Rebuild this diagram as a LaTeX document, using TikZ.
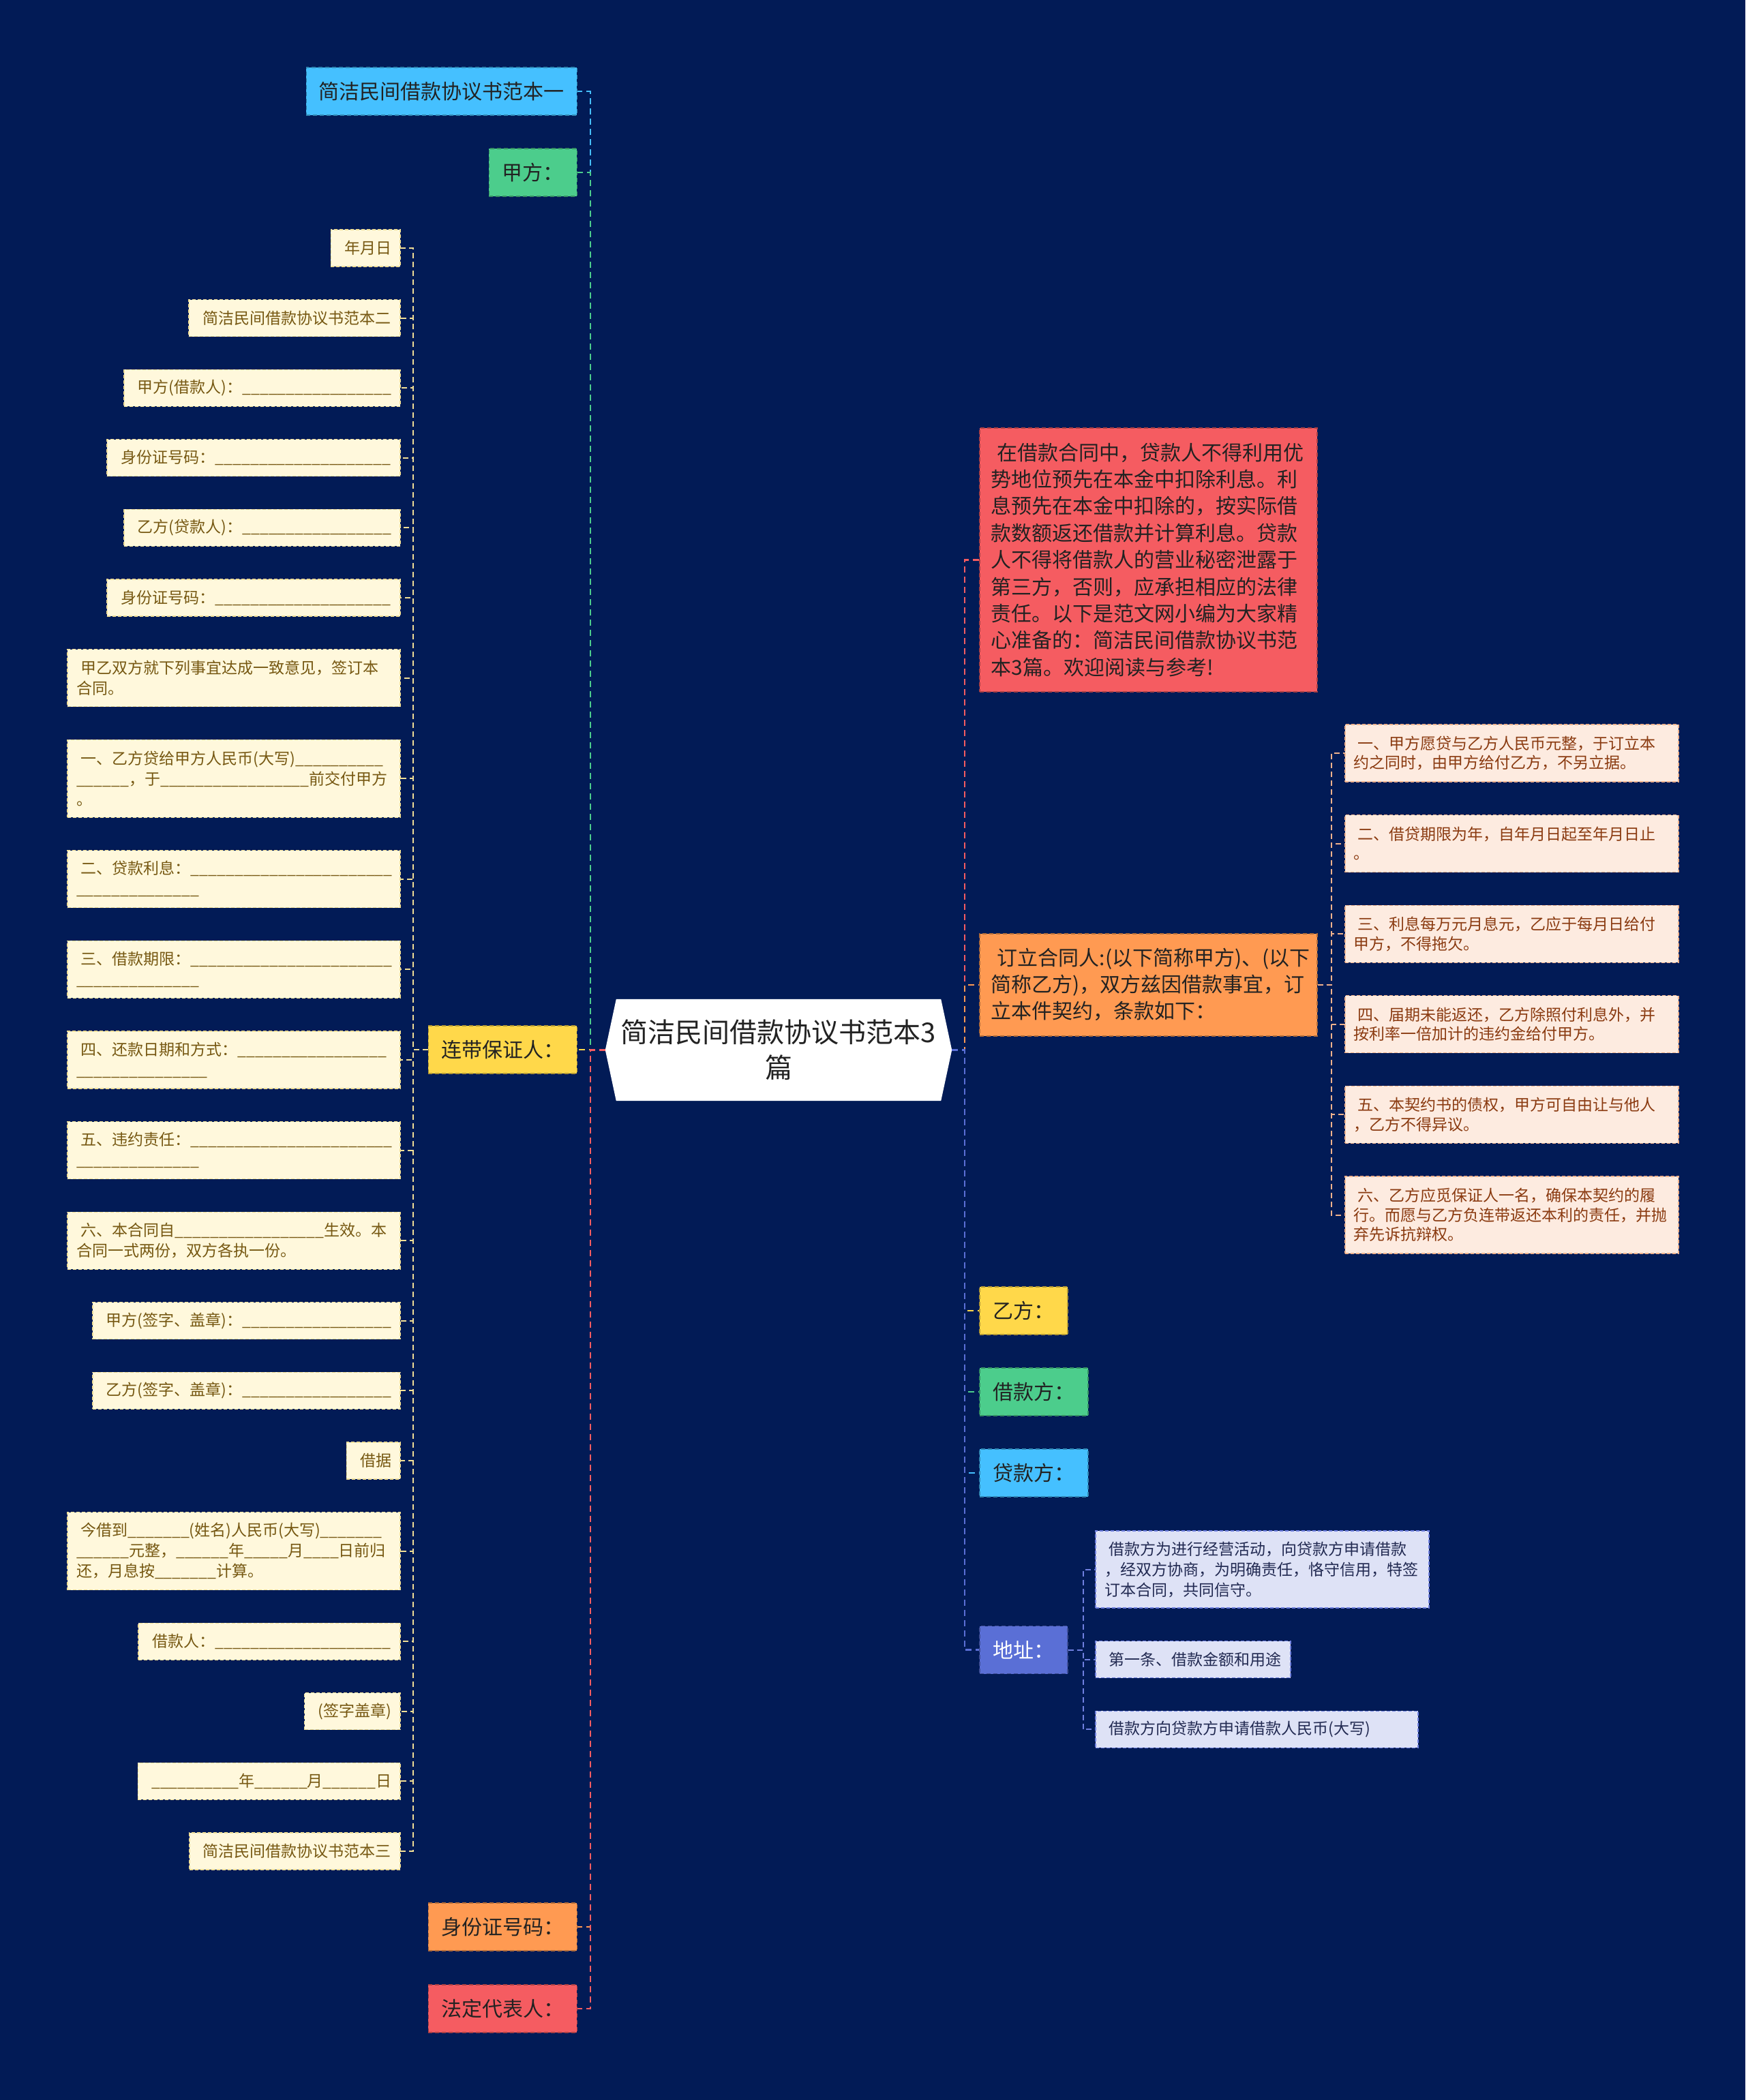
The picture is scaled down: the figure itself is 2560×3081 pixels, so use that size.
\documentclass[tikz,border=0pt]{standalone}
\usepackage{fontspec}
\setmainfont{Noto Sans CJK SC}
\usetikzlibrary{positioning, backgrounds}

\definecolor{bgnavy}{RGB}{2,27,86}
\definecolor{cblue}{RGB}{69,192,255}
\definecolor{cgreen}{RGB}{76,205,140}
\definecolor{cyellow}{RGB}{255,216,74}
\definecolor{corange}{RGB}{255,154,82}
\definecolor{cred}{RGB}{245,92,97}
\definecolor{cpurple}{RGB}{90,111,214}
\definecolor{leafbg}{RGB}{255,248,220}
\definecolor{leaftxt}{RGB}{118,88,18}
\definecolor{leafln}{RGB}{240,222,150}
\definecolor{peachbg}{RGB}{253,235,224}
\definecolor{peachtxt}{RGB}{138,58,16}
\definecolor{peachln}{RGB}{240,178,140}
\definecolor{lilacbg}{RGB}{222,226,246}
\definecolor{lilactxt}{RGB}{34,42,82}
\definecolor{lilacln}{RGB}{112,128,224}
\definecolor{inktxt}{RGB}{34,34,34}

\newcommand{\blank}[1]{\foreach \k in {1,...,#1}{\_}}
\newcommand{\indt}{\hspace*{0.3em}}

\tikzstyle{link} = [line width=2.5pt, dash pattern=on 9pt off 6pt]
\tikzstyle{sublink} = [line width=2pt, dash pattern=on 8pt off 5pt]
\tikzstyle{root} = [text=inktxt, font=\fontsize{40}{52}\selectfont, align=center, minimum width=508pt, minimum height=149pt, inner sep=0pt]
\tikzstyle{topic} = [line width=1.5pt, dash pattern=on 6pt off 4pt, text=inktxt, font=\fontsize{30}{39}\selectfont, inner xsep=16pt, inner ysep=0pt, minimum height=70pt]
\tikzstyle{note} = [topic, align=left, text width=461pt, inner xsep=17pt]
\tikzstyle{leaf} = [fill=leafbg, draw=leafln, line width=1.2pt, dash pattern=on 5pt off 3pt, text=leaftxt, font=\fontsize{23}{30}\selectfont, inner xsep=13pt, inner ysep=0pt, outer sep=0pt, minimum height=54pt, anchor=north east]
\tikzstyle{leafwide} = [leaf, text width=462pt, align=left, minimum height=84pt]
\tikzstyle{clause} = [fill=peachbg, draw=peachln, line width=1.2pt, dash pattern=on 5pt off 3pt, text=peachtxt, font=\fontsize{23}{28.5}\selectfont, inner xsep=12pt, inner ysep=0pt, outer sep=0pt, text width=465pt, align=left, minimum height=84pt, anchor=north west]
\tikzstyle{term} = [fill=lilacbg, draw=lilacln, line width=1.2pt, dash pattern=on 5pt off 3pt, text=lilactxt, font=\fontsize{23}{30}\selectfont, inner xsep=13pt, inner ysep=0pt, outer sep=0pt, minimum height=54pt, anchor=north west]
\tikzset{tcol/.style={fill=#1, draw=#1!70!black}}

\begin{document}
\begin{tikzpicture}[x=1pt, y=-1pt, node distance=48.6pt]
    \node[root] (ctr) at (1142,1540.5) {简洁民间借款协议书范本3\\篇};

    % left side
    \node[topic, tcol=cblue, anchor=east, minimum width=397pt] (sampleone) at (847,134) {简洁民间借款协议书范本一};
    \node[topic, tcol=cgreen, anchor=east, minimum width=129pt] (partya) at (847,253) {甲方：};
    \node[topic, tcol=cyellow, anchor=east, minimum width=218pt] (guarantor) at (847,1540) {连带保证人：};
    \node[topic, tcol=corange, anchor=east, minimum width=218pt] (idno) at (847,2827) {身份证号码：};
    \node[topic, tcol=cred, anchor=east, minimum width=218pt] (legalrep) at (847,2947) {法定代表人：};

    \node[leaf, minimum width=101pt] (g1) at (587,337) {\indt 年月日};
    \node[leaf, below=of g1.south east, anchor=north east, minimum width=310pt] (g2) {\indt 简洁民间借款协议书范本二};
    \node[leaf, below=of g2.south east, anchor=north east, minimum width=404pt] (g3) {\indt 甲方(借款人)：\blank{17}};
    \node[leaf, below=of g3.south east, anchor=north east, minimum width=430pt] (g4) {\indt 身份证号码：\blank{20}};
    \node[leaf, below=of g4.south east, anchor=north east, minimum width=404pt] (g5) {\indt 乙方(贷款人)：\blank{17}};
    \node[leaf, below=of g5.south east, anchor=north east, minimum width=430pt] (g6) {\indt 身份证号码：\blank{20}};
    \node[leafwide, below=of g6.south east, anchor=north east] (g7) {\indt 甲乙双方就下列事宜达成一致意见，签订本\\合同。};
    \node[leafwide, below=of g7.south east, anchor=north east, minimum height=114pt] (g8) {\indt 一、乙方贷给甲方人民币(大写)\blank{10}\\\blank{6}，于\blank{17}前交付甲方\\。};
    \node[leafwide, below=of g8.south east, anchor=north east] (g9) {\indt 二、贷款利息：\blank{23}\\\blank{14}};
    \node[leafwide, below=of g9.south east, anchor=north east] (g10) {\indt 三、借款期限：\blank{23}\\\blank{14}};
    \node[leafwide, below=of g10.south east, anchor=north east] (g11) {\indt 四、还款日期和方式：\blank{17}\\\blank{15}};
    \node[leafwide, below=of g11.south east, anchor=north east] (g12) {\indt 五、违约责任：\blank{23}\\\blank{14}};
    \node[leafwide, below=of g12.south east, anchor=north east] (g13) {\indt 六、本合同自\blank{17}生效。本\\合同一式两份，双方各执一份。};
    \node[leaf, below=of g13.south east, anchor=north east, minimum width=451pt] (g14) {\indt 甲方(签字、盖章)：\blank{17}};
    \node[leaf, below=of g14.south east, anchor=north east, minimum width=451pt] (g15) {\indt 乙方(签字、盖章)：\blank{17}};
    \node[leaf, below=of g15.south east, anchor=north east, minimum width=78pt] (g16) {\indt 借据};
    \node[leafwide, below=of g16.south east, anchor=north east, minimum height=114pt] (g17) {\indt 今借到\blank{7}(姓名)人民币(大写)\blank{7}\\\blank{6}元整，\blank{6}年\blank{5}月\blank{4}日前归\\还，月息按\blank{7}计算。};
    \node[leaf, below=of g17.south east, anchor=north east, minimum width=384pt] (g18) {\indt 借款人：\blank{20}};
    \node[leaf, below=of g18.south east, anchor=north east, minimum width=139pt] (g19) {\indt (签字盖章)};
    \node[leaf, below=of g19.south east, anchor=north east, minimum width=381pt] (g20) {\indt \blank{10}年\blank{6}月\blank{6}日};
    \node[leaf, below=of g20.south east, anchor=north east, minimum width=309pt] (g21) {\indt 简洁民间借款协议书范本三};

    % right side
    \node[note, tcol=cred, anchor=north west, minimum height=387pt, font=\fontsize{30}{39.4}\selectfont] (intro) at (1436,627) {\indt 在借款合同中，贷款人不得利用优\\势地位预先在本金中扣除利息。利\\息预先在本金中扣除的，按实际借\\款数额返还借款并计算利息。贷款\\人不得将借款人的营业秘密泄露于\\第三方，否则，应承担相应的法律\\责任。以下是范文网小编为大家精\\心准备的：简洁民间借款协议书范\\本3篇。欢迎阅读与参考!};
    \node[note, tcol=corange, anchor=north west, minimum height=150pt] (signers) at (1436,1369) {\indt 订立合同人:(以下简称甲方)、(以下\\简称乙方)，双方兹因借款事宜，订\\立本件契约，条款如下：};
    \node[topic, tcol=cyellow, anchor=west, minimum width=129pt] (partyb) at (1436,1923) {乙方：};
    \node[topic, tcol=cgreen, anchor=west, minimum width=159pt] (borrower) at (1436,2042) {借款方：};
    \node[topic, tcol=cblue, anchor=west, minimum width=159pt] (lender) at (1436,2161) {贷款方：};
    \node[topic, tcol=cpurple, anchor=west, minimum width=129pt, text=white] (addr) at (1436,2420.5) {地址：};

    \node[clause] (c1) at (1973,1063) {\indt 一、甲方愿贷与乙方人民币元整，于订立本\\约之同时，由甲方给付乙方，不另立据。};
    \node[clause, below=of c1.south west, anchor=north west] (c2) {\indt 二、借贷期限为年，自年月日起至年月日止\\。};
    \node[clause, below=of c2.south west, anchor=north west] (c3) {\indt 三、利息每万元月息元，乙应于每月日给付\\甲方，不得拖欠。};
    \node[clause, below=of c3.south west, anchor=north west] (c4) {\indt 四、届期未能返还，乙方除照付利息外，并\\按利率一倍加计的违约金给付甲方。};
    \node[clause, below=of c4.south west, anchor=north west] (c5) {\indt 五、本契约书的债权，甲方可自由让与他人\\，乙方不得异议。};
    \node[clause, below=of c5.south west, anchor=north west, minimum height=113pt] (c6) {\indt 六、乙方应觅保证人一名，确保本契约的履\\行。而愿与乙方负连带返还本利的责任，并抛\\弃先诉抗辩权。};

    \node[term, text width=463pt, align=left, minimum height=113pt] (a1) at (1607,2246) {\indt 借款方为进行经营活动，向贷款方申请借款\\，经双方协商，为明确责任，恪守信用，特签\\订本合同，共同信守。};
    \node[term, below=of a1.south west, anchor=north west, minimum width=286pt] (a2) {\indt 第一条、借款金额和用途};
    \node[term, below=of a2.south west, anchor=north west, text width=447pt, align=left] (a3) {\indt 借款方向贷款方申请借款人民币(大写)};

    % Edges
    \foreach \n/\c in {sampleone/cblue, partya/cgreen, guarantor/cyellow, idno/corange, legalrep/cred}
        \draw[link, \c] (ctr.west) -- ++(-22pt,0) |- (\n.east);
    \foreach \n/\c in {intro/cred, signers/corange, partyb/cyellow, borrower/cgreen, lender/cblue, addr/cpurple}
        \draw[link, \c] (ctr.east) -- ++(19pt,0) |- (\n.west);
    \foreach \i in {1,...,21}
        \draw[sublink, leafln] (guarantor.west) -- ++(-22pt,0) |- (g\i.east);
    \foreach \i in {1,...,6}
        \draw[sublink, peachln] (signers.east) -- ++(20pt,0) |- (c\i.west);
    \foreach \i in {1,2,3}
        \draw[sublink, lilacln] (addr.east) -- ++(22pt,0) |- (a\i.west);

    \begin{scope}[on background layer]
        \fill[bgnavy] (0,0) rectangle (2560,3081);
        \fill[white] ([xshift=16pt]ctr.north west) -- ([xshift=-16pt]ctr.north east) -- (ctr.east)
            -- ([xshift=-16pt]ctr.south east) -- ([xshift=16pt]ctr.south west) -- (ctr.west) -- cycle;
    \end{scope}
\end{tikzpicture}
\end{document}
